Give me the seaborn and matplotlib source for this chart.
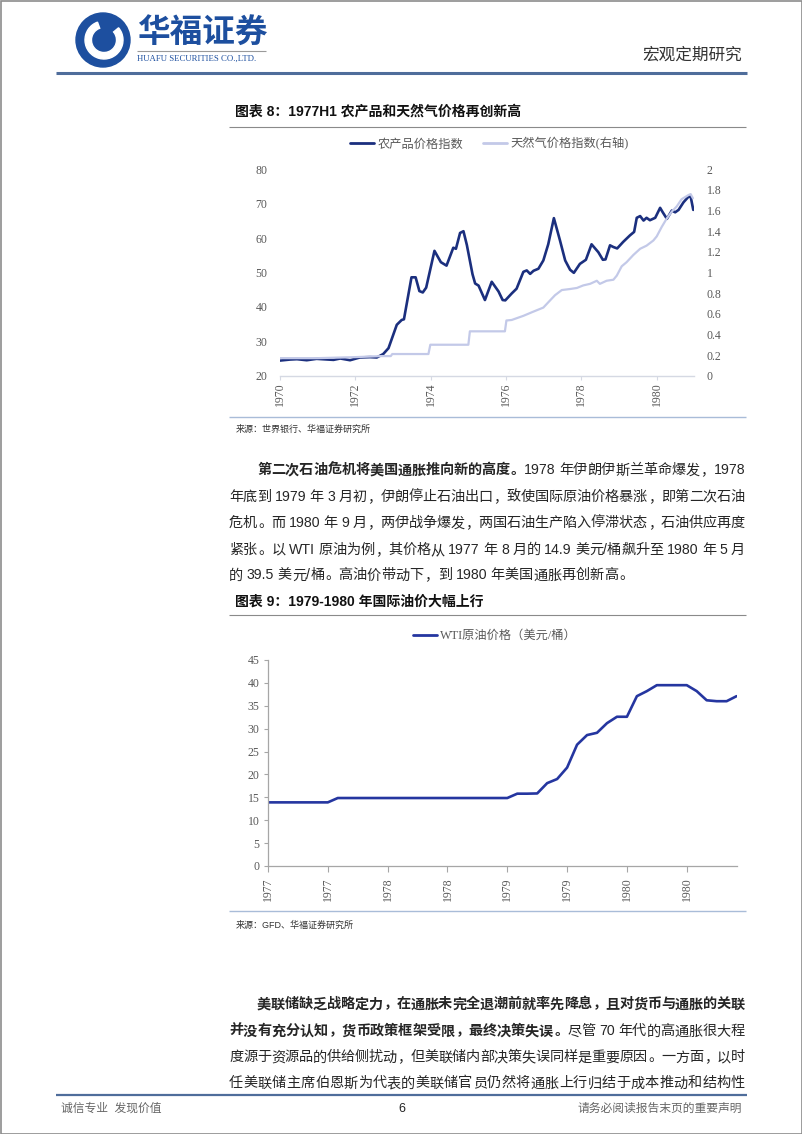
import numpy as np
import matplotlib
matplotlib.use("Agg")
import matplotlib.pyplot as plt
import seaborn as sns
from matplotlib.patches import Circle, Wedge, Rectangle
from matplotlib.lines import Line2D
from matplotlib.font_manager import FontProperties

# ---------------- data ----------------
agri_year = [1970.00, 1970.27, 1970.45, 1970.71, 1970.97, 1971.42, 1971.60, 1971.86, 1972.12,
             1972.39, 1972.57, 1972.74, 1972.88, 1973.10, 1973.23, 1973.29, 1973.49, 1973.60,
             1973.70, 1973.79, 1973.88, 1974.10, 1974.27, 1974.42, 1974.60, 1974.67, 1974.78,
             1974.87, 1974.96, 1975.11, 1975.18, 1975.27, 1975.44, 1975.62, 1975.80, 1975.91,
             1975.98, 1976.15, 1976.28, 1976.46, 1976.55, 1976.64, 1976.73, 1976.86, 1976.99,
             1977.12, 1977.27, 1977.43, 1977.57, 1977.70, 1977.80, 1977.96, 1978.12, 1978.27,
             1978.45, 1978.57, 1978.64, 1978.76, 1978.85, 1978.95, 1979.11, 1979.29, 1979.40,
             1979.47, 1979.56, 1979.65, 1979.73, 1979.82, 1979.96, 1980.09, 1980.16, 1980.27,
             1980.40, 1980.49, 1980.58, 1980.71, 1980.84, 1980.90, 1980.97]
agri_value = [24.4, 24.7, 24.8, 24.5, 24.9, 24.6, 25.0, 24.5, 25.3,
              25.4, 25.3, 26.3, 28.0, 34.8, 36.2, 36.4, 48.6, 48.6,
              44.6, 44.2, 45.6, 56.3, 53.0, 52.0, 57.2, 56.9, 61.5,
              62.0, 58.0, 49.5, 46.8, 46.2, 42.0, 47.3, 44.5, 42.0,
              41.9, 43.9, 45.3, 50.2, 50.6, 49.6, 50.5, 51.1, 53.5,
              58.2, 65.8, 59.4, 53.5, 50.8, 49.9, 52.5, 53.7, 58.2,
              55.9, 53.7, 53.8, 57.9, 57.4, 57.0, 58.9, 60.8, 61.8,
              65.9, 66.4, 65.1, 65.9, 65.2, 65.9, 68.8, 67.5, 65.6,
              68.0, 67.5, 68.2, 70.4, 72.0, 72.1, 68.2]

gas_year = [1970.00, 1971.00, 1972.00, 1972.70, 1972.94, 1972.98, 1973.94, 1973.99, 1975.00,
            1975.04, 1975.97, 1976.01, 1976.15, 1976.46, 1976.72, 1976.99, 1977.17, 1977.30,
            1977.48, 1977.70, 1977.88, 1978.05, 1978.23, 1978.41, 1978.49, 1978.67, 1978.85,
            1978.94, 1979.07, 1979.20, 1979.38, 1979.56, 1979.73, 1979.91, 1980.00, 1980.13,
            1980.26, 1980.40, 1980.53, 1980.66, 1980.84, 1980.90, 1980.96]
gas_value = [0.17, 0.17, 0.18, 0.19, 0.19, 0.21, 0.21, 0.30, 0.30,
             0.43, 0.43, 0.535, 0.54, 0.58, 0.62, 0.66, 0.73, 0.78,
             0.83, 0.84, 0.85, 0.875, 0.89, 0.92, 0.89, 0.92, 0.93,
             0.97, 1.06, 1.10, 1.17, 1.23, 1.26, 1.31, 1.35, 1.44,
             1.52, 1.59, 1.64, 1.71, 1.75, 1.76, 1.72]

chart1_xticks = [1970, 1972, 1974, 1976, 1978, 1980]
chart1_xlabels = ["1970", "1972", "1974", "1976", "1978", "1980"]
chart1_left_ticks = [20, 30, 40, 50, 60, 70, 80]
chart1_right_ticks = [0, 0.2, 0.4, 0.6, 0.8, 1.0, 1.2, 1.4, 1.6, 1.8, 2.0]
chart1_right_labels = ["0", "0.2", "0.4", "0.6", "0.8", "1", "1.2", "1.4", "1.6", "1.8", "2"]
chart1_series = ["农产品价格指数", "天然气价格指数(右轴)"]

wti_price = [13.9, 13.9, 13.9, 13.9, 13.9, 13.9, 13.9,
             14.85, 14.85, 14.85, 14.85, 14.85, 14.85, 14.85, 14.85, 14.85,
             14.85, 14.85, 14.85, 14.85, 14.85, 14.85, 14.85, 14.85, 14.85,
             15.8, 15.8, 15.85, 18.1, 19.0, 21.5, 26.5, 28.6, 29.1, 31.2, 32.6,
             32.6, 37.1, 38.2, 39.5, 39.5, 39.5, 39.5, 38.2, 36.2, 36.0, 36.0, 37.1]
wti_month = list(range(len(wti_price)))  # months since 1977-01
chart2_xticks = [0, 6, 12, 18, 24, 30, 36, 42]
chart2_xlabels = ["1977", "1977", "1978", "1978", "1979", "1979", "1980", "1980"]
chart2_yticks = [0, 5, 10, 15, 20, 25, 30, 35, 40, 45]
chart2_series = "WTI原油价格（美元/桶）"

# ---------------- style ----------------
sns.set_theme(style="white")
plt.rcParams["font.family"] = ["Liberation Sans", "Noto Sans CJK SC", "DejaVu Sans"]
CJK = ["Liberation Sans", "Noto Sans CJK SC", "DejaVu Sans"]
SERIF_CJK = ["Liberation Serif", "Noto Sans CJK SC", "DejaVu Sans"]
DARK = "#1b2f7e"
LIGHT = "#c3c9e8"
WTI = "#2536a0"
BLUE = "#1d4f9f"
TICK = "#595959"
TXT = "#262626"

W, H = 802, 1134
fig = plt.figure(figsize=(W / 100, H / 100), dpi=100)
fig.patch.set_facecolor("white")
bg = fig.add_axes([0, 0, 1, 1])
bg.set_xlim(0, W)
bg.set_ylim(H, 0)
bg.axis("off")
bg.set_zorder(0)


def rect(l, t, r, b):
    return [l / W, 1 - b / H, (r - l) / W, (b - t) / H]


def hline(y, x0, x1, color, lw):
    bg.plot([x0, x1], [y, y], color=color, lw=lw, solid_capstyle="butt")


# page frame
bg.add_patch(Rectangle((0.5, 0.5), W - 1, H - 1, fill=False, ec="#8c8c8c", lw=1.2))

# ---------------- header ----------------
bg.add_patch(Circle((103, 40), 27, color=BLUE))
bg.add_patch(Wedge((104, 40), 19, -40, 250, width=6.5, color="white"))
bg.add_patch(Circle((105, 41), 8, color=BLUE))
bg.text(137, 33, "华福证券", fontsize=23.5, fontweight="bold", color=BLUE, family=CJK,
        va="center", ha="left")
hline(51, 137, 266, "#9a9a9a", 0.8)
bg.text(137, 59, "HUAFU SECURITIES CO.,LTD.", fontsize=6.3, color=BLUE,
        family=["Liberation Serif"], va="center", ha="left")
bg.text(742, 55, "宏观定期研究", fontsize=12, color="#333333", family=CJK,
        va="center", ha="right")
hline(73, 56, 747, "#4f6d9b", 2.2)

# ---------------- chart 1 ----------------
bg.text(235, 112, "图表 8：1977H1 农产品和天然气价格再创新高", fontsize=10, fontweight="bold",
        color="#111111", family=CJK, va="center", ha="left")
hline(127, 229, 746, "#8a8a8a", 0.8)

ax1 = fig.add_axes(rect(280, 169.3, 694.4, 375.7))
ax1.set_facecolor("none")
sns.lineplot(x=agri_year, y=agri_value, ax=ax1, color=DARK, lw=1.9, legend=False)
ax1b = ax1.twinx()
sns.lineplot(x=gas_year, y=gas_value, ax=ax1b, color=LIGHT, lw=1.6, legend=False)
ax1.set_xlim(1970, 1981.0)
ax1.set_ylim(20, 80)
ax1b.set_ylim(0, 2)
ax1.set_xticks(chart1_xticks)
ax1.set_xticklabels(chart1_xlabels, rotation=90)
ax1.set_yticks(chart1_left_ticks)
ax1b.set_yticks(chart1_right_ticks)
ax1b.set_yticklabels(chart1_right_labels)
for a in (ax1, ax1b):
    a.set_xlabel("")
    a.set_ylabel("")
    a.grid(False)
    for s in a.spines.values():
        s.set_visible(False)
ax1.spines["bottom"].set_visible(True)
ax1.spines["bottom"].set_color("#d5d9e3")
ax1.spines["bottom"].set_linewidth(1.0)
ax1.tick_params(axis="x", bottom=True, length=3, width=0.8, color="#d5d9e3", pad=2,
                labelsize=8.5, labelcolor=TICK, labelfontfamily="Liberation Serif")
ax1.tick_params(axis="y", left=False, length=0, pad=9, labelsize=8.5, labelcolor=TICK,
                labelfontfamily="Liberation Serif")
ax1b.tick_params(axis="y", right=False, length=0, pad=9, labelsize=8.5, labelcolor=TICK,
                 labelfontfamily="Liberation Serif")
h1 = [Line2D([], [], color=DARK, lw=2.0), Line2D([], [], color=LIGHT, lw=2.0)]
fig.legend(h1, chart1_series, loc="center", bbox_to_anchor=(489 / W, 1 - 144 / H), ncol=2,
           frameon=False, handlelength=2.0, handletextpad=0.25, columnspacing=1.6,
           prop=FontProperties(family=SERIF_CJK, size=8.8), labelcolor=TICK)

hline(417, 229, 746, "#a9bcd8", 1.0)
bg.text(236, 429, "来源：世界银行、华福证券研究所", fontsize=6.5, color="#333333", family=CJK,
        va="center", ha="left")

# ---------------- body text helpers ----------------
renderer = fig.canvas.get_renderer()
FS = 10.2
FS_PX = FS * 100 / 72
PUNCT = set("，。：、；！？")


def tokenize(s):
    out, buf = [], ""
    for ch in s:
        if ord(ch) < 128:
            if ch == " ":
                if buf:
                    out.append(buf)
                    buf = ""
                out.append(" ")
            else:
                buf += ch
        else:
            if buf:
                out.append(buf)
                buf = ""
            out.append(ch)
    if buf:
        out.append(buf)
    return out


def draw_line(segs, x0, x1, yc, justify=True):
    toks = []
    for text, bold in segs:
        for tk in tokenize(text):
            toks.append((tk, bold))
    items = []
    base = yc + 0.38 * FS_PX
    for tk, bold in toks:
        fw = "bold" if bold else "normal"
        if tk == " ":
            items.append((None, 0.26 * FS_PX, "sp"))
        elif ord(tk[0]) >= 128:
            t = bg.text(0, base, tk, fontsize=FS, fontweight=fw, family=CJK, color=TXT,
                        va="baseline", ha="left" if tk in PUNCT else "center")
            items.append((t, FS_PX, "p" if tk in PUNCT else "c"))
        else:
            t = bg.text(0, base, tk, fontsize=FS, fontweight=fw, family=CJK, color=TXT,
                        va="baseline", ha="left")
            items.append((t, t.get_window_extent(renderer=renderer).width, "a"))
    nat = sum(w for _, w, _ in items)
    n = len(items)
    gap = (x1 - x0 - nat) / (n - 1) if (justify and n > 1) else 0.0
    x = x0
    for t, w, kind in items:
        if t is not None:
            if kind == "c":
                t.set_x(x + w / 2)
            elif kind == "p":
                t.set_x(x + 1.0)
            else:
                t.set_x(x)
        x += w + gap


L, R, IND = 229, 745, 257
para1 = [
    ([("第二次石油危机将美国通胀推向新的高度。", True), ("1978 年伊朗伊斯兰革命爆发，1978", False)], IND, True),
    ([("年底到 1979 年 3 月初，伊朗停止石油出口，致使国际原油价格暴涨，即第二次石油", False)], L, True),
    ([("危机。而 1980 年 9 月，两伊战争爆发，两国石油生产陷入停滞状态，石油供应再度", False)], L, True),
    ([("紧张。以 WTI 原油为例，其价格从 1977 年 8 月的 14.9 美元/桶飙升至 1980 年 5 月", False)], L, True),
    ([("的 39.5 美元/桶。高油价带动下，到 1980 年美国通胀再创新高。", False)], L, False),
]
for (segs, x0, just), yc in zip(para1, [469, 495.5, 522, 548.5, 574]):
    draw_line(segs, x0, R, yc, just)

# ---------------- chart 2 ----------------
bg.text(235, 602, "图表 9：1979-1980 年国际油价大幅上行", fontsize=10, fontweight="bold",
        color="#111111", family=CJK, va="center", ha="left")
hline(615, 229, 746, "#8a8a8a", 0.8)

x0_2 = 268.0
px_month = 9.97
ax2 = fig.add_axes(rect(x0_2, 660, x0_2 + 47 * px_month, 866))
ax2.set_facecolor("none")
sns.lineplot(x=wti_month, y=wti_price, ax=ax2, color=WTI, lw=1.9, legend=False)
ax2.set_xlim(0, 47)
ax2.set_ylim(0, 45)
ax2.set_xticks(chart2_xticks)
ax2.set_xticklabels(chart2_xlabels, rotation=90)
ax2.set_yticks(chart2_yticks)
ax2.set_xlabel("")
ax2.set_ylabel("")
ax2.grid(False)
for s in ("top", "right"):
    ax2.spines[s].set_visible(False)
for s in ("left", "bottom"):
    ax2.spines[s].set_color("#a6a6a6")
    ax2.spines[s].set_linewidth(0.9)
ax2.tick_params(axis="x", bottom=True, length=4, width=0.8, color="#a6a6a6", pad=4,
                labelsize=8.5, labelcolor=TICK, labelfontfamily="Liberation Serif")
ax2.tick_params(axis="y", left=True, length=3, width=0.8, color="#a6a6a6", pad=3,
                labelsize=8.5, labelcolor=TICK, labelfontfamily="Liberation Serif")
fig.legend([Line2D([], [], color=WTI, lw=2.0)], [chart2_series], loc="center",
           bbox_to_anchor=(495 / W, 1 - 636 / H), frameon=False, handlelength=2.0,
           handletextpad=0.25, prop=FontProperties(family=SERIF_CJK, size=8.8), labelcolor=TICK)

hline(911, 229, 746, "#a9bcd8", 1.0)
bg.text(236, 925, "来源：GFD、华福证券研究所", fontsize=6.5, color="#333333", family=CJK,
        va="center", ha="left")

# ---------------- paragraph 2 ----------------
para2 = [
    ([("美联储缺乏战略定力，在通胀未完全退潮前就率先降息，且对货币与通胀的关联", True)], IND, True),
    ([("并没有充分认知，货币政策框架受限，最终决策失误。", True), ("尽管 70 年代的高通胀很大程", False)], L, True),
    ([("度源于资源品的供给侧扰动，但美联储内部决策失误同样是重要原因。一方面，以时", False)], L, True),
    ([("任美联储主席伯恩斯为代表的美联储官员仍然将通胀上行归结于成本推动和结构性", False)], L, True),
]
for (segs, x0, just), yc in zip(para2, [1003, 1030, 1056, 1082]):
    draw_line(segs, x0, R, yc, just)

# ---------------- footer ----------------
hline(1095, 56, 747, "#4f6d9b", 1.6)
bg.text(61, 1109, "诚信专业  发现价值", fontsize=8.5, color="#666666", family=CJK,
        va="center", ha="left")
bg.text(402, 1109, "6", fontsize=9, color="#222222", family=CJK, va="center", ha="center")
bg.text(742, 1109, "请务必阅读报告末页的重要声明", fontsize=8.5, color="#666666", family=CJK,
        va="center", ha="right")

fig.savefig("out.png", dpi=100, facecolor="white")
